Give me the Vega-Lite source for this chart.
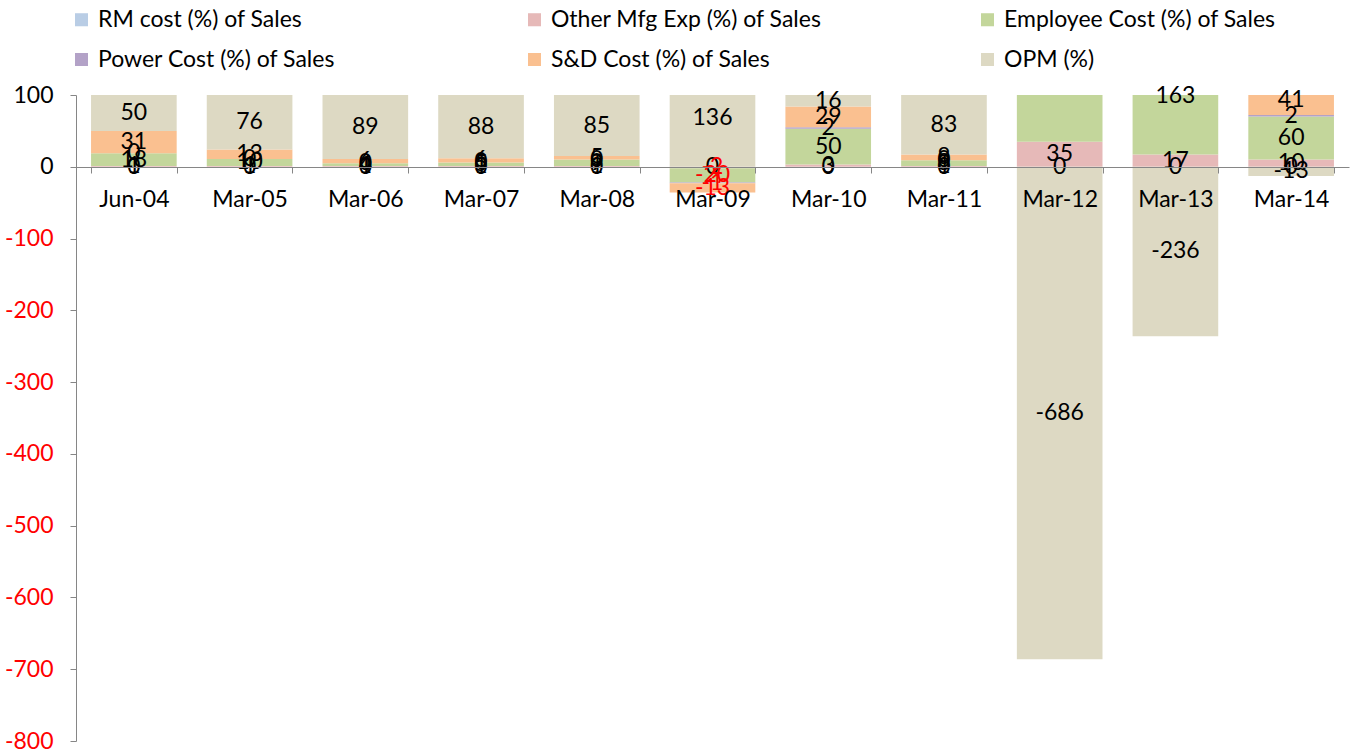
{
  "$schema": "https://vega.github.io/schema/vega-lite/v6.json",
  "width": 1273,
  "height": 646,
  "autosize": {"type": "none"},
  "padding": {"left": 76, "top": 95, "right": 8, "bottom": 13},
  "background": "white",
  "config": {"font": "Lato", "view": {"stroke": null}},
  "data": {"values": [
    {"period": "Jun-04", "series": "RM cost (%) of Sales", "value": 0},
    {"period": "Jun-04", "series": "Other Mfg Exp (%) of Sales", "value": 1},
    {"period": "Jun-04", "series": "Employee Cost (%) of Sales", "value": 18},
    {"period": "Jun-04", "series": "Power Cost (%) of Sales", "value": 0},
    {"period": "Jun-04", "series": "S&D Cost (%) of Sales", "value": 31},
    {"period": "Jun-04", "series": "OPM (%)", "value": 50},
    {"period": "Mar-05", "series": "RM cost (%) of Sales", "value": 0},
    {"period": "Mar-05", "series": "Other Mfg Exp (%) of Sales", "value": 1},
    {"period": "Mar-05", "series": "Employee Cost (%) of Sales", "value": 10},
    {"period": "Mar-05", "series": "Power Cost (%) of Sales", "value": 0},
    {"period": "Mar-05", "series": "S&D Cost (%) of Sales", "value": 13},
    {"period": "Mar-05", "series": "OPM (%)", "value": 76},
    {"period": "Mar-06", "series": "RM cost (%) of Sales", "value": 0},
    {"period": "Mar-06", "series": "Other Mfg Exp (%) of Sales", "value": 1},
    {"period": "Mar-06", "series": "Employee Cost (%) of Sales", "value": 4},
    {"period": "Mar-06", "series": "Power Cost (%) of Sales", "value": 0},
    {"period": "Mar-06", "series": "S&D Cost (%) of Sales", "value": 6},
    {"period": "Mar-06", "series": "OPM (%)", "value": 89},
    {"period": "Mar-07", "series": "RM cost (%) of Sales", "value": 0},
    {"period": "Mar-07", "series": "Other Mfg Exp (%) of Sales", "value": 1},
    {"period": "Mar-07", "series": "Employee Cost (%) of Sales", "value": 5},
    {"period": "Mar-07", "series": "Power Cost (%) of Sales", "value": 0},
    {"period": "Mar-07", "series": "S&D Cost (%) of Sales", "value": 6},
    {"period": "Mar-07", "series": "OPM (%)", "value": 88},
    {"period": "Mar-08", "series": "RM cost (%) of Sales", "value": 0},
    {"period": "Mar-08", "series": "Other Mfg Exp (%) of Sales", "value": 1},
    {"period": "Mar-08", "series": "Employee Cost (%) of Sales", "value": 9},
    {"period": "Mar-08", "series": "Power Cost (%) of Sales", "value": 0},
    {"period": "Mar-08", "series": "S&D Cost (%) of Sales", "value": 5},
    {"period": "Mar-08", "series": "OPM (%)", "value": 85},
    {"period": "Mar-09", "series": "RM cost (%) of Sales", "value": 0},
    {"period": "Mar-09", "series": "Other Mfg Exp (%) of Sales", "value": -2},
    {"period": "Mar-09", "series": "Employee Cost (%) of Sales", "value": -20},
    {"period": "Mar-09", "series": "Power Cost (%) of Sales", "value": -1},
    {"period": "Mar-09", "series": "S&D Cost (%) of Sales", "value": -13},
    {"period": "Mar-09", "series": "OPM (%)", "value": 136},
    {"period": "Mar-10", "series": "RM cost (%) of Sales", "value": 0},
    {"period": "Mar-10", "series": "Other Mfg Exp (%) of Sales", "value": 3},
    {"period": "Mar-10", "series": "Employee Cost (%) of Sales", "value": 50},
    {"period": "Mar-10", "series": "Power Cost (%) of Sales", "value": 2},
    {"period": "Mar-10", "series": "S&D Cost (%) of Sales", "value": 29},
    {"period": "Mar-10", "series": "OPM (%)", "value": 16},
    {"period": "Mar-11", "series": "RM cost (%) of Sales", "value": 0},
    {"period": "Mar-11", "series": "Other Mfg Exp (%) of Sales", "value": 1},
    {"period": "Mar-11", "series": "Employee Cost (%) of Sales", "value": 8},
    {"period": "Mar-11", "series": "Power Cost (%) of Sales", "value": 0},
    {"period": "Mar-11", "series": "S&D Cost (%) of Sales", "value": 8},
    {"period": "Mar-11", "series": "OPM (%)", "value": 83},
    {"period": "Mar-12", "series": "RM cost (%) of Sales", "value": 0},
    {"period": "Mar-12", "series": "Other Mfg Exp (%) of Sales", "value": 35},
    {"period": "Mar-12", "series": "Employee Cost (%) of Sales", "value": 720},
    {"period": "Mar-12", "series": "Power Cost (%) of Sales", "value": 6},
    {"period": "Mar-12", "series": "S&D Cost (%) of Sales", "value": 25},
    {"period": "Mar-12", "series": "OPM (%)", "value": -686},
    {"period": "Mar-13", "series": "RM cost (%) of Sales", "value": 0},
    {"period": "Mar-13", "series": "Other Mfg Exp (%) of Sales", "value": 17},
    {"period": "Mar-13", "series": "Employee Cost (%) of Sales", "value": 163},
    {"period": "Mar-13", "series": "Power Cost (%) of Sales", "value": 6},
    {"period": "Mar-13", "series": "S&D Cost (%) of Sales", "value": 150},
    {"period": "Mar-13", "series": "OPM (%)", "value": -236},
    {"period": "Mar-14", "series": "RM cost (%) of Sales", "value": 0},
    {"period": "Mar-14", "series": "Other Mfg Exp (%) of Sales", "value": 10},
    {"period": "Mar-14", "series": "Employee Cost (%) of Sales", "value": 60},
    {"period": "Mar-14", "series": "Power Cost (%) of Sales", "value": 2},
    {"period": "Mar-14", "series": "S&D Cost (%) of Sales", "value": 41},
    {"period": "Mar-14", "series": "OPM (%)", "value": -13}
  ]},
  "transform": [
    {"calculate": "indexof(['RM cost (%) of Sales','Other Mfg Exp (%) of Sales','Employee Cost (%) of Sales','Power Cost (%) of Sales','S&D Cost (%) of Sales','OPM (%)'], datum.series)", "as": "idx"},
    {"stack": "value", "groupby": ["period"], "sort": [{"field": "idx", "order": "ascending"}], "as": ["v0", "v1"], "offset": "zero"},
    {"calculate": "(datum.v0 + datum.v1) / 2", "as": "mid"},
    {"calculate": "'' + datum.value", "as": "lbl"}
  ],
  "encoding": {
    "x": {
      "field": "period", "type": "nominal", "sort": null,
      "scale": {"paddingInner": 0.26, "paddingOuter": 0.13},
      "axis": {
        "title": null, "labelAngle": 0, "labelFontSize": 23, "labelColor": "black",
        "domainColor": "#868686", "tickColor": "#868686", "tickSize": 6,
        "tickBand": "extent", "labelPadding": 15, "offset": -574, "zindex": 1
      }
    }
  },
  "layer": [
    {
      "mark": {"type": "bar", "clip": true},
      "encoding": {
        "y": {
          "field": "v0", "type": "quantitative",
          "scale": {"domain": [-800, 100], "nice": false, "zero": false},
          "axis": {
            "title": null, "values": [100, 0, -100, -200, -300, -400, -500, -600, -700, -800],
            "labelExpr": "'' + datum.value",
            "labelFontSize": 23, "labelColor": {"expr": "datum.value < 0 ? '#ff0000' : 'black'"},
            "domainColor": "#868686", "tickColor": "#868686", "tickSize": 6,
            "labelPadding": 17, "grid": false
          }
        },
        "y2": {"field": "v1"},
        "color": {
          "field": "series", "type": "nominal",
          "scale": {
            "domain": ["RM cost (%) of Sales", "Other Mfg Exp (%) of Sales", "Employee Cost (%) of Sales", "Power Cost (%) of Sales", "S&D Cost (%) of Sales", "OPM (%)"],
            "range": ["#b9cde5", "#e6b9b8", "#c3d69b", "#b3a2c7", "#fac090", "#ddd9c3"]
          },
          "legend": {
            "title": null, "orient": "none", "legendX": -6, "legendY": -87,
            "direction": "horizontal", "padding": 0,
            "columns": 3, "gridAlign": "all", "columnPadding": 153, "rowPadding": 16,
            "symbolType": "square", "symbolSize": 170, "symbolStrokeWidth": 0,
            "labelFontSize": 23, "labelColor": "black", "labelOffset": 5, "labelLimit": 400
          }
        }
      }
    },
    {
      "transform": [{"filter": "datum.mid <= 100 && datum.mid >= -800"}],
      "mark": {"type": "text", "fontSize": 23, "baseline": "middle", "align": "center"},
      "encoding": {
        "y": {"field": "mid", "type": "quantitative"},
        "text": {"field": "lbl", "type": "nominal"},
        "color": {"condition": {"test": "datum.value < 0 && datum.series != 'OPM (%)'", "value": "#ff0000"}, "value": "black"}
      }
    }
  ]
}
